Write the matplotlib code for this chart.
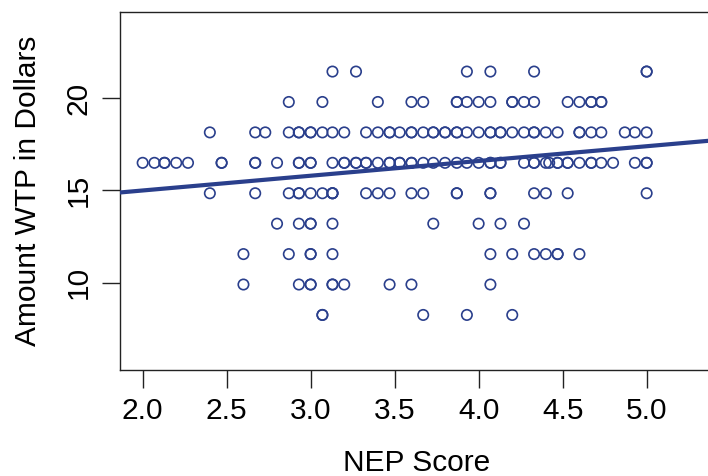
import numpy as np
import matplotlib
matplotlib.use("Agg")
import matplotlib.pyplot as plt

plt.rcParams['font.family'] = ['Liberation Sans', 'DejaVu Sans']

# NEP score values for each WTP level (duplicates where circles overlap)
x_2145 = [3.13, 3.27, 3.93, 4.07, 4.33, 5.0, 5.0]
x_1980 = [2.87, 3.07, 3.4, 3.6, 3.67, 3.87, 3.87, 3.93, 4.0, 4.07, 4.2, 4.2,
          4.27, 4.33, 4.53, 4.6, 4.67, 4.67, 4.73, 4.73]
x_1815 = [2.4, 2.67, 2.73, 2.87, 2.93, 2.93, 3.0, 3.0, 3.07, 3.13, 3.2, 3.33,
          3.4, 3.47, 3.47, 3.53, 3.6, 3.6, 3.67, 3.73, 3.73, 3.8, 3.8, 3.87,
          3.87, 3.93, 4.0, 4.07, 4.07, 4.13, 4.13, 4.2, 4.27, 4.33, 4.33, 4.4,
          4.47, 4.6, 4.6, 4.67, 4.73, 4.87, 4.93, 5.0]
x_1650 = [2.0, 2.07, 2.13, 2.13, 2.2, 2.27, 2.47, 2.47, 2.67, 2.67, 2.8,
          2.93, 2.93, 3.0, 3.0, 3.13, 3.2, 3.2, 3.27, 3.27, 3.33, 3.33, 3.4,
          3.47, 3.47, 3.53, 3.53, 3.6, 3.6, 3.67, 3.73, 3.8, 3.87, 3.93, 4.0,
          4.07, 4.07, 4.13, 4.13, 4.27, 4.33, 4.33, 4.4, 4.42, 4.47, 4.47,
          4.53, 4.53, 4.6, 4.67, 4.67, 4.73, 4.8, 4.93, 5.0, 5.0]
x_1485 = [2.4, 2.67, 2.87, 2.93, 2.93, 3.0, 3.07, 3.13, 3.13, 3.13, 3.33,
          3.4, 3.47, 3.6, 3.67, 3.87, 3.87, 4.07, 4.07, 4.33, 4.4, 4.53, 5.0]
x_1320 = [2.8, 2.93, 3.0, 3.0, 3.13, 3.73, 4.0, 4.13, 4.27]
x_1155 = [2.6, 2.87, 3.0, 3.0, 3.13, 4.07, 4.2, 4.33, 4.4, 4.47, 4.47, 4.6]
x_990 = [2.6, 2.93, 3.0, 3.0, 3.13, 3.13, 3.2, 3.47, 3.6, 4.07]
x_825 = [3.07, 3.07, 3.67, 3.93, 4.2]

wtp_levels = [21.45, 19.80, 18.15, 16.50, 14.85, 13.20, 11.55, 9.90, 8.25]
nep_rows = [x_2145, x_1980, x_1815, x_1650, x_1485, x_1320, x_1155, x_990, x_825]

# fitted regression line
intercept = 13.40
slope = 0.80

nep = np.concatenate([np.array(r) for r in nep_rows])
wtp = np.concatenate([np.full(len(r), lv) for r, lv in zip(nep_rows, wtp_levels)])

col = '#2a3f8c'
fig = plt.figure(figsize=(7.08, 4.76), dpi=100)
W, H = 708, 476
ax = fig.add_axes([120.3 / W, 1 - 369.7 / H, (712 - 120.3) / W, (369.7 - 12) / H])

ax.scatter(nep, wtp, s=56, facecolors='none', edgecolors=col, linewidths=1.2, zorder=2)
ax.axline((0, intercept), slope=slope, color=col, lw=3, zorder=3)

ax.set_xlim(1.867, 5.389)
ax.set_ylim(5.28, 24.68)
ax.set_xticks([2.0, 2.5, 3.0, 3.5, 4.0, 4.5, 5.0])
ax.set_xticklabels(['2.0', '2.5', '3.0', '3.5', '4.0', '4.5', '5.0'])
ax.set_yticks([10, 15, 20])
for lab in ax.get_yticklabels():
    lab.set_rotation(90)
    lab.set_va('center')
ax.tick_params(axis='both', labelsize=21.5, length=13, width=1, color='#222222')
ax.tick_params(axis='x', pad=7)
ax.tick_params(axis='y', pad=7)
for sp in ax.spines.values():
    sp.set_linewidth(1)
    sp.set_color('#222222')

ax.set_xlabel('NEP Score', fontsize=21.5, labelpad=17)
ax.set_ylabel('Amount WTP in Dollars', fontsize=21.5, labelpad=16)

fig.savefig('out.png', dpi=100)
